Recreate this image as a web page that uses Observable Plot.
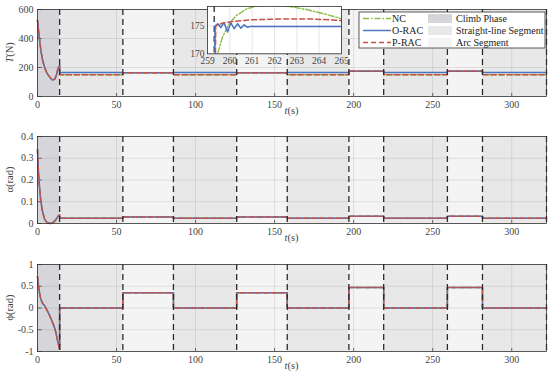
<!DOCTYPE html>
<html><head><meta charset="utf-8">
<script src="https://cdn.jsdelivr.net/npm/d3@7"></script>
<script src="https://cdn.jsdelivr.net/npm/@observablehq/plot@0.6"></script>
<style>
body{margin:0;background:#fff;}
#root{position:relative;width:550px;height:380px;overflow:hidden;background:#fff}
.p{position:absolute;left:0}
</style></head><body><div id="root"></div>
<script>
// ---- segments ----
const segStart = [0, 14, 54, 86, 126, 158, 197, 219, 259.3, 281.5];
const segEnd   = [14, 54, 86, 126, 158, 197, 219, 259.3, 281.5, 322];
const segType  = ["Climb Phase","Straight-line Segment","Arc Segment","Straight-line Segment","Arc Segment","Straight-line Segment","Arc Segment","Straight-line Segment","Arc Segment","Straight-line Segment"];
const shadeTypes  = ["Climb Phase","Straight-line Segment","Arc Segment"];
const shadeColors = ["#d6d6da","#e8e8e8","#f4f4f4"];
const xTicks = [0, 50, 100, 150, 200, 250, 300];

// ---- climb phase (0–14 s) ----
const climbTime   = [0, 0.5, 1, 2, 3, 4.5, 6, 8, 9.5, 11, 12, 13, 14];
const thrustClimb = [525, 470, 420, 330, 260, 200, 160, 130, 114, 120, 150, 195, 215];
const alphaClimb  = [0.34, 0.25, 0.19, 0.11, 0.06, 0.02, 0.004, 0, 0.003, 0.012, 0.022, 0.033, 0.04];
const phiClimb    = [0.72, 0.55, 0.4, 0.22, 0.12, 0.05, -0.05, -0.2, -0.33, -0.47, -0.63, -0.8, -0.95];

// ---- segment levels (segments 2..10) ----
const thrustORAC = [165, 163, 165, 163, 165, 175, 165, 175, 165];
const thrustPRAC = [150, 164, 150, 164, 150, 176, 150, 176, 150];
const thrustNC   = [150, 164, 150, 164, 150, 177, 150, 177, 150];
const alphaSeg   = [0.024, 0.03, 0.024, 0.03, 0.024, 0.033, 0.024, 0.033, 0.024];
const phiSeg     = [0, 0.35, 0, 0.35, 0, 0.47, 0, 0.47, 0];

// ---- inset (259–265 s) ----
const insetTicks  = [259, 260, 261, 262, 263, 264, 265];
const insetORAC_t = [259.3, 259.34, 259.45, 259.6, 259.74, 259.9, 260.04, 260.19, 260.35, 260.49, 260.64, 260.79, 260.9, 265];
const insetORAC_v = [165, 175, 175.4, 174.75, 175.6, 173.9, 175.6, 174.5, 175.4, 174.6, 175.2, 174.75, 174.9, 174.9];
const insetPRAC_t = [259.3, 259.37, 259.67, 260.12, 260.87, 262.2, 263.7, 264.9, 265];
const insetPRAC_v = [150, 175.05, 175.5, 175.8, 176.1, 176.25, 176.25, 176.0, 175.95];
const insetNC_t   = [259.3, 259.45, 259.67, 259.97, 260.27, 260.72, 261.17, 261.84, 262.5, 263.4, 264.3, 265];
const insetNC_v   = [166, 170, 173, 175.4, 176.8, 178, 178.6, 178.9, 178.6, 178, 177.1, 176.3];

const colNC = "#8cbf4a", colO = "#4a74c0", colP = "#c8504a";
const FONT = "Liberation Serif";

const segs = segStart.map((s, i) => ({start: s, end: segEnd[i], type: segType[i]}));
function build(climb, seg) {
  const pts = climbTime.map((t, i) => ({t, v: climb[i]}));
  seg.forEach((v, i) => { pts.push({t: segStart[i + 1], v}); pts.push({t: segEnd[i + 1], v}); });
  return pts;
}
const zip = (ts, vs) => ts.map((t, i) => ({t, v: vs[i]}));

const root = document.getElementById("root");

function panel({top, yDomain, yTicks, nc, o, p, yLabel}) {
  const H = 120;
  const [y0, y1] = yDomain;
  const chart = Plot.plot({
    width: 550, height: H, marginLeft: 37, marginRight: 4, marginTop: 9, marginBottom: 24,
    style: {fontFamily: FONT, fontSize: "10px", color: "#444", background: "transparent"},
    x: {domain: [0, 322], ticks: xTicks, tickSize: 0, tickPadding: 4, tickFormat: d => String(d), label: null},
    y: {domain: yDomain, ticks: yTicks, tickSize: 0, tickPadding: 4, tickFormat: d => String(d), label: null},
    color: {domain: shadeTypes, range: shadeColors},
    marks: [
      Plot.rect(segs, {x1: "start", x2: "end", y1: () => y0, y2: () => y1, fill: "type"}),
      Plot.ruleX(xTicks, {stroke: "#000", strokeOpacity: 0.09}),
      Plot.ruleY(yTicks, {stroke: "#000", strokeOpacity: 0.09}),
      Plot.ruleX(xTicks, {y1: () => y0, y2: () => y0 + (y1 - y0) * 0.035, stroke: "#333", strokeWidth: 0.7}),
      Plot.ruleY(yTicks, {x1: () => 0, x2: () => 3, stroke: "#333", strokeWidth: 0.7}),
      Plot.line(nc, {x: "t", y: "v", stroke: colNC, strokeWidth: 1.4, strokeDasharray: "6,2,1.5,2"}),
      Plot.line(o, {x: "t", y: "v", stroke: colO, strokeWidth: 1.5}),
      Plot.line(p, {x: "t", y: "v", stroke: colP, strokeWidth: 1.5, strokeDasharray: "5,3"}),
      Plot.ruleX(segEnd, {stroke: "#2a2a2a", strokeWidth: 1.3, strokeDasharray: "6,4"}),
      Plot.frame({stroke: "#333", strokeWidth: 0.8})
    ]
  });
  const svg = d3.select(chart);
  const yl = svg.append("text")
    .attr("transform", `translate(11,${(9 + H - 24) / 2}) rotate(-90)`)
    .attr("text-anchor", "middle").attr("dominant-baseline", "middle")
    .attr("font-family", FONT).attr("font-size", 10.5).attr("fill", "#444");
  yLabel.forEach(([s, it]) => yl.append("tspan").attr("font-style", it ? "italic" : "normal").text(s));
  const xl = svg.append("text")
    .attr("x", (37 + 546) / 2).attr("y", H - 6)
    .attr("text-anchor", "middle").attr("font-family", FONT).attr("font-size", 10.5).attr("fill", "#444");
  xl.append("tspan").attr("font-style", "italic").text("t");
  xl.append("tspan").text("(s)");
  const div = document.createElement("div");
  div.className = "p"; div.style.top = top + "px";
  div.appendChild(chart);
  root.appendChild(div);
  return svg;
}

const svg1 = panel({top: 0, yDomain: [0, 600], yTicks: [0, 200, 400, 600],
  nc: build(thrustClimb, thrustNC), o: build(thrustClimb, thrustORAC), p: build(thrustClimb, thrustPRAC),
  yLabel: [["T", true], ["(N)", false]]});
panel({top: 127, yDomain: [0, 0.4], yTicks: [0, 0.1, 0.2, 0.3, 0.4],
  nc: build(alphaClimb, alphaSeg), o: build(alphaClimb, alphaSeg), p: build(alphaClimb, alphaSeg),
  yLabel: [["α(rad)", false]]});
panel({top: 255, yDomain: [-1, 1], yTicks: [-1, -0.5, 0, 0.5, 1],
  nc: build(phiClimb, phiSeg), o: build(phiClimb, phiSeg), p: build(phiClimb, phiSeg),
  yLabel: [["ϕ(rad)", false]]});

// ---- legend ----
const lg = svg1.append("g").attr("font-family", FONT).attr("font-size", 10).attr("fill", "#222")
  .attr("text-anchor", "start");
lg.append("rect").attr("x", 359).attr("y", 12).attr("width", 186).attr("height", 36)
  .attr("fill", "#fff").attr("stroke", "#333").attr("stroke-width", 0.8);
const lgLines = [["NC", colNC, "6,2,1.5,2"], ["O-RAC", colO, null], ["P-RAC", colP, "5,3"]];
lgLines.forEach(([name, c, dash], i) => {
  const y = 18.5 + i * 12;
  const l = lg.append("line").attr("x1", 363).attr("x2", 391).attr("y1", y).attr("y2", y)
    .attr("stroke", c).attr("stroke-width", 1.5);
  if (dash) l.attr("stroke-dasharray", dash);
  lg.append("text").attr("x", 392).attr("y", y).attr("dy", "0.35em").text(name);
});
shadeTypes.forEach((name, i) => {
  const y = 18.5 + i * 12;
  lg.append("rect").attr("x", 428).attr("y", y - 4.5).attr("width", 24).attr("height", 9).attr("fill", shadeColors[i]);
  lg.append("text").attr("x", 456).attr("y", y).attr("dy", "0.35em").text(name);
});

// ---- inset ----
const inset = Plot.plot({
  width: 164, height: 68, marginLeft: 20, marginRight: 10, marginTop: 6, marginBottom: 14.7,
  style: {fontFamily: FONT, fontSize: "9.5px", color: "#444", background: "transparent", overflow: "visible"},
  x: {domain: [259, 265], ticks: insetTicks, tickSize: 0, tickPadding: 3, tickFormat: d => String(d), label: null},
  y: {domain: [170, 178.5], ticks: [170, 175], tickSize: 0, tickPadding: 3, tickFormat: d => String(d), label: null},
  marks: [
    Plot.frame({fill: "#fff"}),
    Plot.ruleX(insetTicks, {stroke: "#000", strokeOpacity: 0.1}),
    Plot.ruleY([170, 175], {stroke: "#000", strokeOpacity: 0.1}),
    Plot.ruleX([259.3], {stroke: "#2a2a2a", strokeWidth: 1.3, strokeDasharray: "6,4"}),
    Plot.line(zip(insetNC_t, insetNC_v), {x: "t", y: "v", stroke: colNC, strokeWidth: 1.4, strokeDasharray: "6,2,1.5,2", clip: true}),
    Plot.line(zip(insetORAC_t, insetORAC_v), {x: "t", y: "v", stroke: colO, strokeWidth: 1.5, clip: true}),
    Plot.line(zip(insetPRAC_t, insetPRAC_v), {x: "t", y: "v", stroke: colP, strokeWidth: 1.5, strokeDasharray: "5,3", clip: true}),
    Plot.frame({stroke: "#333", strokeWidth: 0.8})
  ]
});
const idiv = document.createElement("div");
idiv.className = "p"; idiv.style.top = "0px"; idiv.style.left = "186.7px";
idiv.appendChild(inset);
root.appendChild(idiv);
</script>
</body></html>
